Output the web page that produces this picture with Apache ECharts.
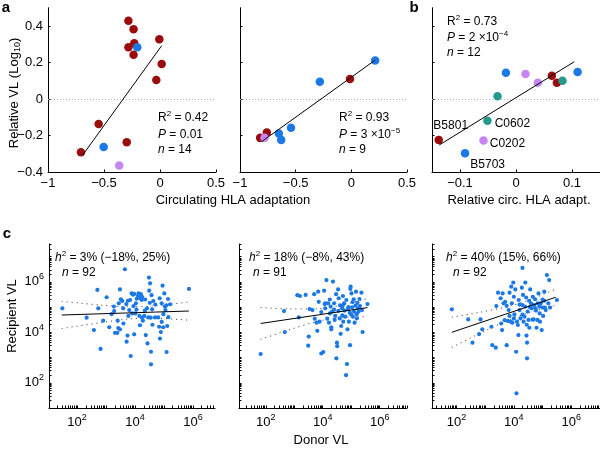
<!DOCTYPE html>
<html>
<head>
<meta charset="utf-8">
<script src="https://cdn.jsdelivr.net/npm/echarts@6/dist/echarts.min.js"></script>
<style>
  html, body { margin: 0; padding: 0; background: #fff; }
  #chart { width: 600px; height: 449px; }
</style>
</head>
<body>
<div id="chart"></div>
<script>
var FONT = 'Liberation Sans, Arial, Helvetica, sans-serif'
var RED = '#9b0d0d'
var BLUE = '#1b78e4'
var PURPLE = '#c586f2'
var TEAL = '#25998b'

// panel a, left: [circulating HLA adaptation, relative VL (log10)]
var a1Red = [[-0.282, 0.429], [-0.236, 0.382], [-0.230, 0.305], [-0.282, 0.283], [-0.236, 0.243], [-0.006, 0.327],
  [0.015, 0.192], [-0.033, 0.104], [-0.548, -0.137], [-0.297, -0.237], [-0.706, -0.292]]
var a1Blue = [[-0.203, 0.283], [-0.503, -0.263]]
var a1Purple = [[-0.364, -0.365]]
var a1Fit = [[-0.69, -0.307], [0.015, 0.292]]

// panel a, right
var a2Red = [[-0.012, 0.109], [-0.759, -0.184], [-0.819, -0.213]]
var a2Blue = [[0.214, 0.211], [-0.283, 0.095], [-0.542, -0.157], [-0.651, -0.189], [-0.630, -0.224]]
var a2Purple = [[-0.780, -0.213]]
var a2Fit = [[-0.804, -0.233], [0.214, 0.213]]

// panel b: [relative circ. HLA adapt., relative VL]
var bRed = [[0.064, 0.128], [0.073, 0.089], [-0.138, -0.224]]
var bBlue = [[-0.018, 0.144], [0.110, 0.148], [-0.091, -0.297]]
var bPurple = [[0.017, 0.137], [0.039, 0.089], [-0.058, -0.228]]
var bTeal = [[0.083, 0.100], [-0.033, 0.015], [-0.051, -0.119]]
var bFit = [[-0.137, -0.252], [0.104, 0.204]]
var bRedNames = ['', '', 'B5801']
var bBlueNames = ['', '', 'B5703']
var bPurpleNames = ['', '', 'C0202']
var bTealNames = ['', '', 'C0602']

// panel c: [log10 donor VL, log10 recipient VL]
var c1Points = [
  [1.49, 4.95], [2.33, 4.58], [2.58, 4.09], [2.70, 5.68], [2.73, 4.95], [2.81, 3.34], [2.90, 4.46], [3.02, 5.39], [3.11, 4.20],
  [3.19, 4.72], [3.27, 5.02], [3.28, 4.84], [3.31, 3.98], [3.39, 3.98], [3.40, 4.46], [3.42, 4.17], [3.44, 5.15], [3.48, 5.70], [3.48, 4.12],
  [3.51, 5.31], [3.56, 5.24], [3.59, 4.95], [3.65, 6.50], [3.70, 5.12], [3.71, 3.63], [3.74, 3.87], [3.77, 4.65], [3.80, 4.88], [3.83, 5.28],
  [3.85, 3.06], [3.88, 5.54], [3.93, 5.49], [3.95, 5.04], [3.97, 5.52], [3.97, 3.92], [4.01, 4.75], [4.03, 5.15], [4.06, 5.33], [4.10, 5.44],
  [4.12, 5.54], [4.15, 5.36], [4.17, 4.28], [4.20, 5.51], [4.23, 5.28], [4.24, 4.58], [4.27, 4.46], [4.32, 4.65], [4.34, 4.86], [4.37, 3.89],
  [4.41, 4.95], [4.43, 3.56], [4.46, 4.59], [4.48, 6.17], [4.49, 5.65], [4.51, 5.17], [4.52, 5.94], [4.54, 4.58], [4.55, 3.23], [4.55, 2.73],
  [4.57, 5.47], [4.59, 4.91], [4.63, 5.24],
  [4.69, 4.59], [4.80, 4.59], [4.83, 4.22], [4.86, 3.75], [4.89, 4.01], [4.92, 5.15], [4.92, 4.41], [4.95, 5.85], [4.97, 4.20], [4.98, 4.72],
  [5.01, 5.54], [5.03, 5.02], [5.05, 4.88], [5.08, 5.07], [5.09, 3.22], [5.11, 4.25], [5.14, 5.32], [5.21, 5.11], [5.86, 5.72],
  [4.25, 5.40], [4.05, 4.90], [3.90, 4.75], [4.35, 5.30], [4.60, 4.30], [4.70, 5.10], [3.60, 4.35], [4.15, 4.65], [4.85, 5.35],
  [5.15, 4.60], [3.75, 5.25]
]
var c1Fit = [[1.47, 4.685], [5.86, 4.844]]
var c1Upper = [[1.47, 5.23], [2.8, 5.08], [3.8, 5.01], [4.6, 5.04], [5.86, 5.20]]
var c1Lower = [[1.47, 4.15], [2.8, 4.38], [3.8, 4.53], [4.6, 4.56], [5.86, 4.48]]

var c2Points = [
  [1.82, 3.14], [2.64, 4.84], [2.67, 4.01], [3.11, 5.47], [3.20, 5.44], [3.16, 4.59], [3.40, 5.48], [3.51, 3.83], [3.49, 3.47], [3.54, 4.92],
  [3.64, 4.88], [3.70, 5.51], [3.72, 4.54], [3.78, 4.38], [3.81, 4.06], [3.84, 5.61], [3.86, 5.21], [3.89, 4.42], [3.95, 3.16], [4.02, 3.22],
  [4.05, 5.65], [4.07, 5.12], [4.09, 5.15], [4.09, 4.95], [4.13, 6.07], [4.16, 4.54], [4.19, 5.15], [4.22, 4.38], [4.25, 4.75], [4.28, 5.02],
  [4.30, 4.20], [4.30, 4.12], [4.33, 4.82], [4.36, 6.01], [4.40, 5.15], [4.42, 4.49], [4.44, 4.65], [4.47, 5.51], [4.48, 2.97], [4.50, 3.59],
  [4.51, 3.45], [4.54, 5.70], [4.56, 5.35], [4.61, 5.07], [4.63, 3.94], [4.65, 4.25], [4.68, 4.95], [4.69, 4.67], [4.71, 5.44], [4.72, 4.42],
  [4.75, 5.15], [4.77, 4.86], [4.79, 4.62], [4.83, 5.28], [4.85, 2.74], [4.87, 4.12], [4.89, 4.92], [4.92, 4.42], [4.95, 4.78], [4.96, 3.49],
  [4.97, 5.72], [4.98, 5.81], [5.01, 5.54], [5.03, 4.99], [5.06, 4.62], [5.09, 5.31], [5.10, 4.82], [5.12, 4.38], [5.15, 5.06], [5.17, 5.61],
  [5.19, 4.72], [5.22, 5.17], [5.24, 4.95], [5.26, 4.82], [5.29, 5.32], [5.31, 5.04], [5.36, 5.57], [5.38, 4.88], [5.40, 4.01], [5.57, 5.12],
  [4.82, 2.30],
  [4.60, 4.55], [4.40, 4.90], [4.90, 5.00], [5.00, 4.70], [4.70, 5.05], [4.25, 5.30], [5.20, 4.55], [3.95, 4.80], [4.55, 4.85], [5.05, 5.20]
]
var c2Fit = [[1.82, 4.35], [5.57, 4.98]]
var c2Upper = [[1.82, 4.98], [2.8, 4.93], [3.8, 4.93], [4.6, 5.06], [5.57, 5.34]]
var c2Lower = [[1.82, 3.72], [2.8, 4.09], [3.8, 4.43], [4.6, 4.58], [5.57, 4.62]]

var c3Points = [
  [1.84, 4.91], [2.41, 4.51], [2.56, 3.59], [2.79, 3.93], [2.84, 4.51], [2.90, 4.12], [3.22, 4.22], [3.25, 3.49], [3.37, 3.39], [3.39, 5.04],
  [3.45, 5.57], [3.54, 5.35], [3.56, 4.35], [3.59, 4.09], [3.61, 5.54], [3.64, 5.15], [3.70, 5.21], [3.75, 3.49], [3.79, 4.45], [3.82, 4.88],
  [3.85, 5.57], [3.89, 4.42], [3.91, 5.81], [3.93, 5.15], [3.95, 4.38], [3.98, 5.97], [4.00, 5.41], [4.02, 4.71], [4.05, 5.70], [4.08, 3.23],
  [4.09, 1.58], [4.11, 4.42], [4.14, 4.29], [4.16, 3.89], [4.17, 5.28], [4.20, 4.88], [4.23, 4.55], [4.30, 6.55], [4.28, 5.77], [4.30, 5.08],
  [4.32, 5.48], [4.34, 4.42], [4.37, 4.62], [4.39, 5.02], [4.40, 5.97], [4.43, 5.38], [4.44, 3.87], [4.46, 3.59], [4.46, 2.97], [4.48, 4.82],
  [4.51, 4.49], [4.53, 5.25], [4.54, 4.18], [4.57, 5.70], [4.60, 5.15], [4.62, 4.95], [4.66, 5.41], [4.69, 4.51], [4.71, 5.08], [4.74, 5.31],
  [4.77, 4.86], [4.79, 4.18], [4.82, 4.49], [4.83, 5.15], [4.86, 5.54], [4.89, 5.02], [4.91, 4.42], [4.94, 5.15], [4.97, 4.09], [5.00, 4.98],
  [5.02, 4.65], [5.06, 5.61], [5.06, 5.25], [5.08, 4.98], [5.11, 4.88], [5.15, 6.27], [5.20, 5.15], [5.23, 6.07], [5.26, 4.98], [5.50, 5.28],
  [3.68, 4.48], [4.00, 4.55], [4.30, 4.70], [4.65, 4.50], [4.90, 4.75], [3.85, 4.65], [4.20, 5.10], [4.55, 5.00], [5.00, 5.30], [3.75, 5.05],
  [4.45, 4.30], [4.75, 4.95]
]
var c3Fit = [[1.84, 4.00], [5.46, 5.39]]
var c3Upper = [[1.84, 4.6], [2.8, 4.79], [3.8, 5.02], [4.6, 5.31], [5.46, 5.71]]
var c3Lower = [[1.84, 3.4], [2.8, 3.95], [3.8, 4.48], [4.6, 4.81], [5.46, 5.07]]

// axis ranges and tick values
var topY = [-0.4, 0.5]
var topYTicks = [-0.4, -0.2, 0, 0.2, 0.4]
var aX = [-1, 0.5]
var aXTicks = [-1, -0.5, 0, 0.5]
var bX = [-0.15, 0.15]
var bXTicks = [-0.1, 0, 0.1]
var cY = [1, 7.5]
var c1X = [1.03, 6.76]
var c2X = [1.06, 6.96]
var c3X = [1.15, 7.0]
var logLabels = [2, 4, 6]

function logTicks(lo, hi) {
  var t = []
  for (var d = 0; d < 8; d++) {
    for (var k = 1; k < 10; k++) {
      var v = d + Math.log10(k)
      if (v > lo + 0.001 && v <= hi) t.push(v)
    }
  }
  return t
}

function numFmt(v) {
  if (Math.abs(v) < 1e-9) return '0'
  return String(+v.toFixed(2)).replace('-', '\u2212')
}
function logFmt(v) {
  return '{b|10}{s|' + Math.round(v) + '}'
}

var labelRich = {
  b: { fontSize: 13, fontFamily: FONT, color: '#000' },
  s: { fontSize: 9, fontFamily: FONT, color: '#000', padding: [0, 0, 10, 0] }
}

function axis(g, range, ticks, labels, fmt) {
  return {
    type: 'value',
    gridIndex: g,
    min: range[0],
    max: range[1],
    axisLine: { show: true, onZero: false, lineStyle: { color: '#000', width: 1 } },
    axisTick: { show: true, inside: true, length: 2.5, lineStyle: { color: '#000' }, customValues: ticks },
    axisLabel: labels ? {
      show: true, customValues: labels, formatter: fmt, color: '#000',
      fontSize: 13, fontFamily: FONT, margin: 5, rich: labelRich
    } : { show: false },
    splitLine: { show: false }
  }
}

function dots(g, data, color, size, names, labelPos) {
  return {
    type: 'scatter',
    xAxisIndex: g,
    yAxisIndex: g,
    symbolSize: size,
    itemStyle: { color: color, opacity: 1 },
    silent: true,
    z: 3,
    data: data.map(function(p, i) {
      if (names && names[i]) {
        return {
          value: p,
          label: Object.assign({
            show: true, formatter: names[i], color: '#000', fontSize: 12, fontFamily: FONT
          }, labelPos[names[i]])
        }
      }
      return p
    })
  }
}

function line(g, data, dashed, zero) {
  var s = {
    type: 'line',
    xAxisIndex: g,
    yAxisIndex: g,
    data: data,
    symbol: 'none',
    silent: true,
    z: dashed ? 2 : 4,
    smooth: dashed ? 0.3 : false,
    lineStyle: { color: dashed ? '#333' : '#000', width: 1, type: dashed ? [1, 4] : 'solid' }
  }
  if (zero) {
    s.markLine = {
      silent: true, symbol: 'none', label: { show: false }, z: 1,
      lineStyle: { color: '#b5b5b5', type: [1, 2], width: 1 },
      data: [{ yAxis: 0 }]
    }
  }
  return s
}

var bLabelPos = {
  B5801: { position: 'top', distance: 4, offset: [12, 0] },
  B5703: { position: 'right', distance: 1, offset: [0, 11] },
  C0202: { position: 'right', distance: 2, offset: [0, 3] },
  C0602: { position: 'right', distance: 3, offset: [0, 3] }
}

var annRich = {
  t: { fontSize: 12, fontFamily: FONT, fill: '#000', color: '#000' },
  i: { fontSize: 12, fontFamily: FONT, fontStyle: 'italic', fill: '#000', color: '#000' },
  s: { fontSize: 8, fontFamily: FONT, fill: '#000', color: '#000', padding: [0, 0, 8, 0] },
  sub: { fontSize: 9, fontFamily: FONT, fill: '#000', color: '#000', padding: [7, 0, 0, 0] },
  T: { fontSize: 13, fontFamily: FONT, fill: '#000', color: '#000' }
}

function txt(x, y, text, align, extra) {
  return Object.assign({
    type: 'text',
    x: x,
    y: y,
    silent: true,
    style: {
      text: text, rich: annRich, fill: '#000', fontSize: 12, fontFamily: FONT,
      textAlign: align || 'left', textVerticalAlign: 'middle'
    }
  }, extra)
}

var graphics = [
  txt(6, 8, 'a', 'center', { style: { text: 'a', fill: '#000', fontSize: 15, fontWeight: 'bold', fontFamily: FONT, textAlign: 'center', textVerticalAlign: 'middle' } }),
  txt(414, 8, 'b', 'center', { style: { text: 'b', fill: '#000', fontSize: 15, fontWeight: 'bold', fontFamily: FONT, textAlign: 'center', textVerticalAlign: 'middle' } }),
  txt(7, 234, 'c', 'center', { style: { text: 'c', fill: '#000', fontSize: 15, fontWeight: 'bold', fontFamily: FONT, textAlign: 'center', textVerticalAlign: 'middle' } }),

  txt(14, 93, '{T|Relative VL (Log}{sub|10}{T|)}', 'center', { rotation: Math.PI / 2 }),
  txt(233, 200, '{T|Circulating HLA adaptation}', 'center'),
  txt(519, 200, '{T|Relative circ. HLA adapt.}', 'center'),
  txt(12, 316, '{T|Recipient VL}', 'center', { rotation: Math.PI / 2 }),
  txt(321, 440, '{T|Donor VL}', 'center'),

  txt(158, 118, '{t|R}{s|2}{t| = 0.42}'),
  txt(158, 134.5, '{i|P}{t| = 0.01}'),
  txt(158, 149.5, '{i|n}{t| = 14}'),

  txt(339, 118, '{t|R}{s|2}{t| = 0.93}'),
  txt(339, 134.5, '{i|P}{t| = 3 \u00d710}{s|\u22125}'),
  txt(339, 149.5, '{i|n}{t| = 9}'),

  txt(447, 22, '{t|R}{s|2}{t| = 0.73}'),
  txt(447, 38, '{i|P}{t| = 2 \u00d710}{s|\u22124}'),
  txt(447, 53, '{i|n}{t| = 12}'),

  txt(55, 258, '{i|h}{s|2}{t| = 3% (\u221218%, 25%)}'),
  txt(62, 272.5, '{i|n}{t| = 92}'),
  txt(249, 258, '{i|h}{s|2}{t| = 18% (\u22128%, 43%)}'),
  txt(253, 272.5, '{i|n}{t| = 91}'),
  txt(446, 258, '{i|h}{s|2}{t| = 40% (15%, 66%)}'),
  txt(453, 272.5, '{i|n}{t| = 92}')
]

var chart = echarts.init(document.getElementById('chart'), null, { renderer: 'canvas' })
chart.setOption({
  animation: false,
  backgroundColor: '#fff',
  textStyle: { fontFamily: FONT },
  grid: [
    { left: 48, top: 7.75, width: 168, height: 164.25 },
    { left: 240, top: 7.75, width: 167, height: 164.25 },
    { left: 432, top: 7.75, width: 168, height: 164.25 },
    { left: 49, top: 244, width: 166, height: 164 },
    { left: 239, top: 244, width: 168, height: 164 },
    { left: 432, top: 244, width: 168, height: 164 }
  ],
  xAxis: [
    axis(0, aX, aXTicks, aXTicks, numFmt),
    axis(1, aX, aXTicks, aXTicks, numFmt),
    axis(2, bX, bXTicks, bXTicks, numFmt),
    axis(3, c1X, logTicks(c1X[0], c1X[1]), logLabels, logFmt),
    axis(4, c2X, logTicks(c2X[0], c2X[1]), logLabels, logFmt),
    axis(5, c3X, logTicks(c3X[0], c3X[1]), logLabels, logFmt)
  ],
  yAxis: [
    axis(0, topY, topYTicks, topYTicks, numFmt),
    axis(1, topY, topYTicks, null),
    axis(2, topY, topYTicks, null),
    axis(3, cY, logTicks(0.9, cY[1]), logLabels, logFmt),
    axis(4, cY, logTicks(0.9, cY[1]), null),
    axis(5, cY, logTicks(0.9, cY[1]), null)
  ],
  graphic: graphics,
  series: [
    line(0, a1Fit, false, true),
    dots(0, a1Red, RED, 8.5),
    dots(0, a1Blue, BLUE, 8.5),
    dots(0, a1Purple, PURPLE, 8.5),

    line(1, a2Fit, false, true),
    dots(1, a2Red, RED, 8.5),
    dots(1, a2Blue, BLUE, 8.5),
    dots(1, a2Purple, PURPLE, 8.5),

    line(2, bFit, false, true),
    dots(2, bRed, RED, 8.5, bRedNames, bLabelPos),
    dots(2, bBlue, BLUE, 8.5, bBlueNames, bLabelPos),
    dots(2, bPurple, PURPLE, 8.5, bPurpleNames, bLabelPos),
    dots(2, bTeal, TEAL, 8.5, bTealNames, bLabelPos),

    dots(3, c1Points, BLUE, 4.2),
    line(3, c1Upper, true),
    line(3, c1Lower, true),
    line(3, c1Fit, false),

    dots(4, c2Points, BLUE, 4.2),
    line(4, c2Upper, true),
    line(4, c2Lower, true),
    line(4, c2Fit, false),

    dots(5, c3Points, BLUE, 4.2),
    line(5, c3Upper, true),
    line(5, c3Lower, true),
    line(5, c3Fit, false)
  ]
})
</script>
</body>
</html>
